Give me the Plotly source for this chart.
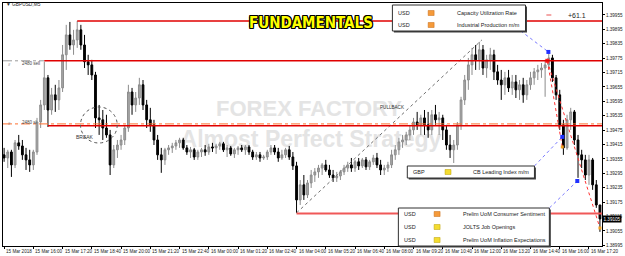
import plotly.graph_objects as go
import pandas as pd

# ---------------- data (GBPUSD, 10-minute bars) ----------------
opens = [1.39372,1.39359,1.39384,1.39330,1.39422,1.39409,1.39372,1.39351,1.39330,1.39384,
         1.39509,1.39580,1.39693,1.39559,1.39622,1.39601,1.39651,1.39789,1.39872,1.39830,
         1.39851,1.39893,1.39830,1.39760,1.39747,1.39705,1.39526,1.39518,1.39484,1.39455,
         1.39330,1.39393,1.39413,1.39434,1.39484,1.39634,1.39580,1.39609,1.39664,1.39580,
         1.39518,1.39497,1.39434,1.39372,1.39351,1.39393,1.39401,1.39409,1.39422,1.39434,
         1.39401,1.39384,1.39393,1.39363,1.39384,1.39393,1.39384,1.39405,1.39401,1.39409,
         1.39418,1.39393,1.39401,1.39376,1.39393,1.39401,1.39393,1.39405,1.39384,1.39363,
         1.39372,1.39359,1.39363,1.39384,1.39401,1.39384,1.39359,1.39372,1.39393,1.39363,
         1.39326,1.39184,1.39247,1.39205,1.39255,1.39288,1.39301,1.39317,1.39330,1.39309,
         1.39288,1.39276,1.39284,1.39301,1.39317,1.39330,1.39317,1.39343,1.39326,1.39351,
         1.39322,1.39343,1.39359,1.39330,1.39309,1.39317,1.39330,1.39372,1.39393,1.39426,
         1.39434,1.39455,1.39476,1.39509,1.39497,1.39526,1.39497,1.39476,1.39539,1.39518,
         1.39526,1.39476,1.39413,1.39393,1.39413,1.39497,1.39601,1.39684,1.39747,1.39789,
         1.39768,1.39810,1.39734,1.39768,1.39789,1.39718,1.39684,1.39664,1.39693,1.39651,
         1.39676,1.39643,1.39664,1.39622,1.39664,1.39693,1.39718,1.39726,1.39734,1.39747,
         1.39776,1.39693,1.39622,1.39497,1.39401,1.39518,1.39551,1.39434,1.39372,1.39351,
         1.39288,1.39351,1.39247,1.39163]
highs = [1.39401,1.39393,1.39393,1.39434,1.39455,1.39434,1.39401,1.39393,1.39393,1.39526,
         1.39601,1.39760,1.39705,1.39651,1.39664,1.39684,1.39830,1.39914,1.39926,1.39893,
         1.39930,1.39914,1.39872,1.39789,1.39768,1.39718,1.39580,1.39559,1.39539,1.39476,
         1.39413,1.39434,1.39455,1.39497,1.39664,1.39651,1.39634,1.39693,1.39684,1.39601,
         1.39568,1.39518,1.39455,1.39401,1.39401,1.39413,1.39422,1.39434,1.39443,1.39443,
         1.39413,1.39405,1.39401,1.39393,1.39401,1.39413,1.39418,1.39422,1.39418,1.39426,
         1.39426,1.39413,1.39409,1.39401,1.39409,1.39413,1.39413,1.39413,1.39393,1.39384,
         1.39384,1.39372,1.39393,1.39413,1.39413,1.39401,1.39393,1.39401,1.39409,1.39384,
         1.39343,1.39267,1.39288,1.39267,1.39309,1.39317,1.39330,1.39338,1.39351,1.39330,
         1.39309,1.39301,1.39309,1.39330,1.39343,1.39359,1.39351,1.39359,1.39359,1.39363,
         1.39351,1.39372,1.39380,1.39351,1.39330,1.39343,1.39393,1.39413,1.39443,1.39455,
         1.39468,1.39497,1.39526,1.39551,1.39539,1.39559,1.39551,1.39559,1.39580,1.39551,
         1.39539,1.39497,1.39455,1.39434,1.39509,1.39614,1.39705,1.39776,1.39818,1.39830,
         1.39843,1.39830,1.39789,1.39818,1.39810,1.39747,1.39726,1.39718,1.39726,1.39705,
         1.39705,1.39684,1.39693,1.39684,1.39718,1.39734,1.39747,1.39755,1.39768,1.39797,
         1.39789,1.39705,1.39643,1.39518,1.39539,1.39568,1.39559,1.39455,1.39393,1.39372,
         1.39372,1.39359,1.39267,1.39163]
lows = [1.39343,1.39317,1.39280,1.39317,1.39393,1.39351,1.39309,1.39301,1.39309,1.39372,
        1.39484,1.39559,1.39488,1.39539,1.39551,1.39559,1.39634,1.39726,1.39810,1.39789,
        1.39818,1.39810,1.39734,1.39705,1.39684,1.39484,1.39455,1.39434,1.39443,1.39288,
        1.39317,1.39359,1.39393,1.39413,1.39468,1.39539,1.39551,1.39580,1.39559,1.39484,
        1.39468,1.39413,1.39351,1.39297,1.39330,1.39372,1.39380,1.39393,1.39401,1.39393,
        1.39372,1.39359,1.39351,1.39351,1.39363,1.39368,1.39372,1.39384,1.39376,1.39393,
        1.39384,1.39363,1.39368,1.39359,1.39372,1.39384,1.39372,1.39372,1.39351,1.39351,
        1.39343,1.39351,1.39351,1.39372,1.39372,1.39343,1.39351,1.39359,1.39351,1.39309,
        1.39130,1.39163,1.39184,1.39192,1.39234,1.39259,1.39276,1.39288,1.39301,1.39276,
        1.39259,1.39259,1.39267,1.39288,1.39301,1.39301,1.39301,1.39309,1.39317,1.39309,
        1.39309,1.39330,1.39317,1.39288,1.39288,1.39301,1.39317,1.39351,1.39372,1.39401,
        1.39413,1.39434,1.39455,1.39476,1.39455,1.39455,1.39443,1.39455,1.39497,1.39455,
        1.39434,1.39393,1.39359,1.39338,1.39393,1.39476,1.39580,1.39643,1.39705,1.39726,
        1.39726,1.39705,1.39693,1.39726,1.39684,1.39664,1.39601,1.39622,1.39634,1.39622,
        1.39609,1.39601,1.39589,1.39601,1.39643,1.39664,1.39684,1.39693,1.39614,1.39726,
        1.39676,1.39601,1.39476,1.39372,1.39393,1.39476,1.39413,1.39276,1.39317,1.39267,
        1.39247,1.39226,1.39151,1.39051]
closes = [1.39359,1.39384,1.39330,1.39422,1.39409,1.39372,1.39351,1.39330,1.39384,1.39509,
          1.39580,1.39693,1.39559,1.39622,1.39601,1.39651,1.39789,1.39872,1.39830,1.39851,
          1.39893,1.39830,1.39760,1.39747,1.39705,1.39526,1.39518,1.39484,1.39455,1.39330,
          1.39393,1.39413,1.39434,1.39484,1.39634,1.39580,1.39609,1.39664,1.39580,1.39518,
          1.39497,1.39434,1.39372,1.39351,1.39393,1.39401,1.39409,1.39422,1.39434,1.39401,
          1.39384,1.39393,1.39363,1.39384,1.39393,1.39384,1.39405,1.39401,1.39409,1.39418,
          1.39393,1.39401,1.39376,1.39393,1.39401,1.39393,1.39405,1.39384,1.39363,1.39372,
          1.39359,1.39363,1.39384,1.39401,1.39384,1.39359,1.39372,1.39393,1.39363,1.39326,
          1.39184,1.39247,1.39205,1.39255,1.39288,1.39301,1.39317,1.39330,1.39309,1.39288,
          1.39276,1.39284,1.39301,1.39317,1.39330,1.39317,1.39343,1.39326,1.39351,1.39322,
          1.39343,1.39359,1.39330,1.39309,1.39317,1.39330,1.39372,1.39393,1.39426,1.39434,
          1.39455,1.39476,1.39509,1.39497,1.39526,1.39497,1.39476,1.39539,1.39518,1.39526,
          1.39476,1.39413,1.39393,1.39413,1.39497,1.39601,1.39684,1.39747,1.39789,1.39768,
          1.39810,1.39734,1.39768,1.39789,1.39718,1.39684,1.39664,1.39693,1.39651,1.39676,
          1.39643,1.39664,1.39622,1.39664,1.39693,1.39718,1.39726,1.39734,1.39747,1.39776,
          1.39693,1.39622,1.39497,1.39401,1.39518,1.39551,1.39434,1.39372,1.39351,1.39288,
          1.39351,1.39247,1.39163,1.39105]
bar_times = pd.date_range("2018-03-15 14:40", periods=len(closes), freq="10min")

price_ticks = [1.38995, 1.39055, 1.39115, 1.39175, 1.39235, 1.39295, 1.39355, 1.39415, 1.39475,
               1.39535, 1.39595, 1.39655, 1.39715, 1.39775, 1.39835, 1.39895, 1.39955]
time_ticks = ["2018-03-15 14:40", "2018-03-15 16:00", "2018-03-15 17:20", "2018-03-15 18:40",
              "2018-03-15 20:00", "2018-03-15 21:20", "2018-03-15 22:40", "2018-03-16 00:00",
              "2018-03-16 01:20", "2018-03-16 02:40", "2018-03-16 04:00", "2018-03-16 05:20",
              "2018-03-16 06:40", "2018-03-16 08:00", "2018-03-16 09:20", "2018-03-16 10:40",
              "2018-03-16 12:00", "2018-03-16 13:20", "2018-03-16 14:40", "2018-03-16 16:00",
              "2018-03-16 17:20"]
time_labels = ["15 Mar 2018", "15 Mar 16:00", "15 Mar 17:20", "15 Mar 18:40", "15 Mar 20:00",
               "15 Mar 21:20", "15 Mar 22:40", "16 Mar 00:00", "16 Mar 01:20", "16 Mar 02:40",
               "16 Mar 04:00", "16 Mar 05:20", "16 Mar 06:40", "16 Mar 08:00", "16 Mar 09:20",
               "16 Mar 10:40", "16 Mar 12:00", "16 Mar 13:20", "16 Mar 14:40", "16 Mar 16:00",
               "16 Mar 17:20"]

# horizontal levels
level_prices = [1.39930, 1.39764, 1.39493, 1.39128]
level_starts = ["2018-03-15 18:00", "2018-03-15 16:30", "2018-03-15 16:40", "2018-03-16 04:00"]
pending_sell = 1.39764
pending_sl = 1.39501

# pullback trend line
pullback_times = ["2018-03-16 04:00", "2018-03-16 12:27"]
pullback_prices = [1.39130, 1.39851]

# news events
event_times = ["2018-03-16 15:29", "2018-03-16 16:07", "2018-03-16 16:48"]
event_prices = [1.39801, 1.39447, 1.39263]
link_times = ["2018-03-16 14:13", "2018-03-16 14:51", "2018-03-16 15:32"]
link_prices = [1.39889, 1.39326, 1.39151]
impulse_start = ("2018-03-16 15:26", 1.39764)
impulse_ends_t = ["2018-03-16 16:07", "2018-03-16 17:50"]
impulse_ends_p = [1.39405, 1.39067]

box_rows = [
    [("USD", "orange", "Capacity Utilization Rate"), ("USD", "orange", "Industrial Production m/m")],
    [("GBP", "yellow", "CB Leading Index m/m")],
    [("USD", "orange", "Prelim UoM Consumer Sentiment"), ("USD", "yellow", "JOLTS Job Openings"),
     ("USD", "yellow", "Prelim UoM Inflation Expectations")],
]

X_START = "2018-03-15 14:37"
X_END = "2018-03-16 17:55:36"
Y_RANGE = [1.38992, 1.40005]

W, H = 625, 256
ML, MR, MT, MB = 2, 20, 3, 10


def PX(x):
    return (x - ML) / (W - ML - MR)


def PY(y):
    return (H - MB - y) / (H - MT - MB)


FONT = "Liberation Sans, Arial, sans-serif"

fig = go.Figure()

# watermark (base axes, drawn below the candles)
fig.add_trace(go.Scatter(
    x=[PX(310), PX(312)], y=[PY(110), PY(141)], mode="text",
    text=["FOREX FACTORY", "Almost Perfect Strategy"],
    textfont=dict(family=FONT, size=[22, 23], color="#e4e4e4", weight="bold"),
    xaxis="x", yaxis="y", hoverinfo="skip", showlegend=False))

fig.add_trace(go.Candlestick(
    x=bar_times, open=opens, high=highs, low=lows, close=closes,
    xaxis="x2", yaxis="y2", whiskerwidth=0,
    increasing=dict(line=dict(color="#8c8c8c", width=1), fillcolor="#a8a8a8"),
    decreasing=dict(line=dict(color="#000000", width=1), fillcolor="#000000"),
    showlegend=False, hoverinfo="skip"))

# pullback dotted line
fig.add_trace(go.Scatter(x=pullback_times, y=pullback_prices, mode="lines",
                         line=dict(color="#707070", width=1, dash="dot"),
                         xaxis="x2", yaxis="y2", showlegend=False, hoverinfo="skip"))

# impulse red dotted lines
for t, p in zip(impulse_ends_t, impulse_ends_p):
    fig.add_trace(go.Scatter(x=[impulse_start[0], t], y=[impulse_start[1], p], mode="lines",
                             line=dict(color="#ff3030", width=1, dash="dot"),
                             xaxis="x2", yaxis="y2", showlegend=False, hoverinfo="skip"))
# connectors from event boxes
for lt, lp, et, ep in zip(link_times, link_prices, event_times, event_prices):
    fig.add_trace(go.Scatter(x=[lt, et], y=[lp, ep], mode="lines",
                             line=dict(color="#7a7aff", width=1, dash="dot"),
                             xaxis="x2", yaxis="y2", showlegend=False, hoverinfo="skip"))
fig.add_trace(go.Scatter(x=event_times, y=event_prices, mode="markers",
                         marker=dict(symbol="square", size=4, color="#2030ff"),
                         xaxis="x2", yaxis="y2", showlegend=False, hoverinfo="skip"))
fig.add_trace(go.Scatter(x=[impulse_start[0]], y=[impulse_start[1]], mode="markers",
                         marker=dict(symbol="square", size=4, color="#ff2020"),
                         xaxis="x2", yaxis="y2", showlegend=False, hoverinfo="skip"))
fig.add_trace(go.Scatter(x=impulse_ends_t, y=impulse_ends_p, mode="markers",
                         marker=dict(symbol="square", size=3, color="#f0a020"),
                         xaxis="x2", yaxis="y2", showlegend=False, hoverinfo="skip"))

shapes = []
# orange dash-dot pending level (full width) and grey dash-dot sell level
shapes.append(dict(type="line", xref="x2", yref="y2", x0=X_START, x1=X_END, y0=pending_sl, y1=pending_sl,
                   line=dict(color="#ff7030", width=1, dash="dashdot")))
shapes.append(dict(type="line", xref="x2", yref="y2", x0=X_START, x1=level_starts[1], y0=pending_sell,
                   y1=pending_sell, line=dict(color="#9a9a9a", width=1, dash="dashdot")))
for i, (p, s) in enumerate(zip(level_prices, level_starts)):
    last = i == len(level_prices) - 1
    shapes.append(dict(type="line", xref="x2", yref="y2", x0=s, x1=X_END, y0=p, y1=p,
                       line=dict(color="#f05858" if last else "#e00000", width=2 if last else 1.5)))

# break circle
shapes.append(dict(type="circle", xref="paper", yref="paper", x0=PX(80), x1=PX(117), y0=PY(143), y1=PY(107),
                   line=dict(color="#555555", width=1, dash="dot")))
# pink marker near +61.1
shapes.append(dict(type="rect", xref="paper", yref="paper", x0=PX(549), x1=PX(554), y0=PY(16), y1=PY(14),
                   fillcolor="#f4a8a8", line=dict(width=0)))

annotations = []
box_geo = [((394, 5, 528, 31), 398, 430, 457, [13, 25]),
           ((409, 166, 537, 178), 413, 447, 473, [172]),
           ((400, 208, 552, 246), 404, 436, 463, [214, 227, 240])]
sq_colors = {"orange": ("#f59a3a", "#c46812"), "yellow": ("#f4dc30", "#b89e00")}
for rows, (rect, xc, xs, xt, ys) in zip(box_rows, box_geo):
    x0, y0, x1, y1 = rect
    shapes.append(dict(type="rect", xref="paper", yref="paper", x0=PX(x0 + 1.5), x1=PX(x1 + 1.5),
                       y0=PY(y1 + 1.5), y1=PY(y0 + 1.5), fillcolor="#404040", line=dict(width=0)))
    shapes.append(dict(type="rect", xref="paper", yref="paper", x0=PX(x0), x1=PX(x1), y0=PY(y1), y1=PY(y0),
                       fillcolor="white", line=dict(color="#303030", width=1)))
    for (cur, col, name), yy in zip(rows, ys):
        fc, lc = sq_colors[col]
        shapes.append(dict(type="rect", xref="paper", yref="paper", x0=PX(xs), x1=PX(xs + 6),
                           y0=PY(yy + 2.5), y1=PY(yy - 2.5), fillcolor=fc, line=dict(color=lc, width=0.5)))
        annotations.append(dict(xref="paper", yref="paper", x=PX(xc), y=PY(yy), text=cur, showarrow=False,
                                xanchor="left", yanchor="middle", font=dict(family=FONT, size=5.5, color="#222")))
        annotations.append(dict(xref="paper", yref="paper", x=PX(xt), y=PY(yy), text=name, showarrow=False,
                                xanchor="left", yanchor="middle", font=dict(family=FONT, size=5.5, color="#222")))

# time axis labels (MT4 style: text starts at the tick)
for t, lab in zip(time_ticks, time_labels):
    annotations.append(dict(xref="x2", yref="paper", x=t, y=0, text=lab, showarrow=False, xanchor="left",
                            yanchor="top", xshift=0, yshift=-1, font=dict(family=FONT, size=4.6, color="#222")))

outline = ", ".join(f"{a}px {b}px 0 #000" for a in (-1, 0, 1) for b in (-1, 0, 1) if (a, b) != (0, 0))
annotations += [
    dict(xref="paper", yref="paper", x=PX(312), y=PY(12), text="FUNDAMENTALS", showarrow=False,
         font=dict(family="Liberation Sans Narrow, DejaVu Sans Condensed, Liberation Sans", size=15,
                   color="#ffff00", weight=900, shadow=outline)),
    dict(xref="paper", yref="paper", x=PX(3), y=PY(5), text="▼ GBPUSD,M5", showarrow=False,
         xanchor="left", yanchor="middle", font=dict(family=FONT, size=4.8, color="#222")),
    dict(xref="paper", yref="paper", x=PX(591), y=PY(10), text="+61.1", showarrow=False,
         font=dict(family=FONT, size=7, color="#222")),
    dict(xref="paper", yref="paper", x=PX(19), y=PY(59), text="2480 sell", showarrow=False,
         xanchor="left", font=dict(family=FONT, size=4.5, color="#444")),
    dict(xref="paper", yref="paper", x=PX(5), y=PY(60), text="#", showarrow=False,
         font=dict(family=FONT, size=4, color="#444")),
    dict(xref="paper", yref="paper", x=PX(19), y=PY(122), text="2480 sl", showarrow=False,
         xanchor="left", font=dict(family=FONT, size=4.5, color="#444")),
    dict(xref="paper", yref="paper", x=PX(5), y=PY(123), text="#", showarrow=False,
         font=dict(family=FONT, size=4, color="#444")),
    dict(xref="paper", yref="paper", x=PX(73), y=PY(137), text="BREAK", showarrow=False,
         font=dict(family=FONT, size=5, color="#333")),
    dict(xref="paper", yref="paper", x=PX(394), y=PY(107), text="PULLBACK", showarrow=False,
         font=dict(family=FONT, size=4.6, color="#333")),
    dict(xref="paper", yref="y2", x=1, y=closes[-1], text=f"{closes[-1]:.5f}", showarrow=False,
         xanchor="left", bgcolor="#000000", borderpad=0.5,
         font=dict(family=FONT, size=4.6, color="#ffffff")),
]

fig.update_layout(
    width=W, height=H, margin=dict(l=ML, r=MR, t=MT, b=MB),
    paper_bgcolor="white", plot_bgcolor="white",
    xaxis=dict(range=[0, 1], visible=False, fixedrange=True),
    yaxis=dict(range=[0, 1], visible=False, fixedrange=True),
    xaxis2=dict(overlaying="x", anchor="y2", type="date", range=[X_START, X_END],
                showline=True, linecolor="#000", linewidth=1, mirror=True, showgrid=False, zeroline=False,
                ticks="outside", ticklen=2, tickcolor="#000", tickvals=time_ticks, showticklabels=False,
                rangeslider=dict(visible=False)),
    yaxis2=dict(overlaying="y", anchor="x2", side="right", range=Y_RANGE, showline=True, linecolor="#000",
                linewidth=1, mirror=True, showgrid=False, zeroline=False, ticks="outside", ticklen=2,
                tickcolor="#000", tickvals=price_ticks, tickformat=".5f",
                tickfont=dict(family=FONT, size=4.6, color="#222")),
    shapes=shapes, annotations=annotations, showlegend=False,
)

fig.write_html("out.html")
